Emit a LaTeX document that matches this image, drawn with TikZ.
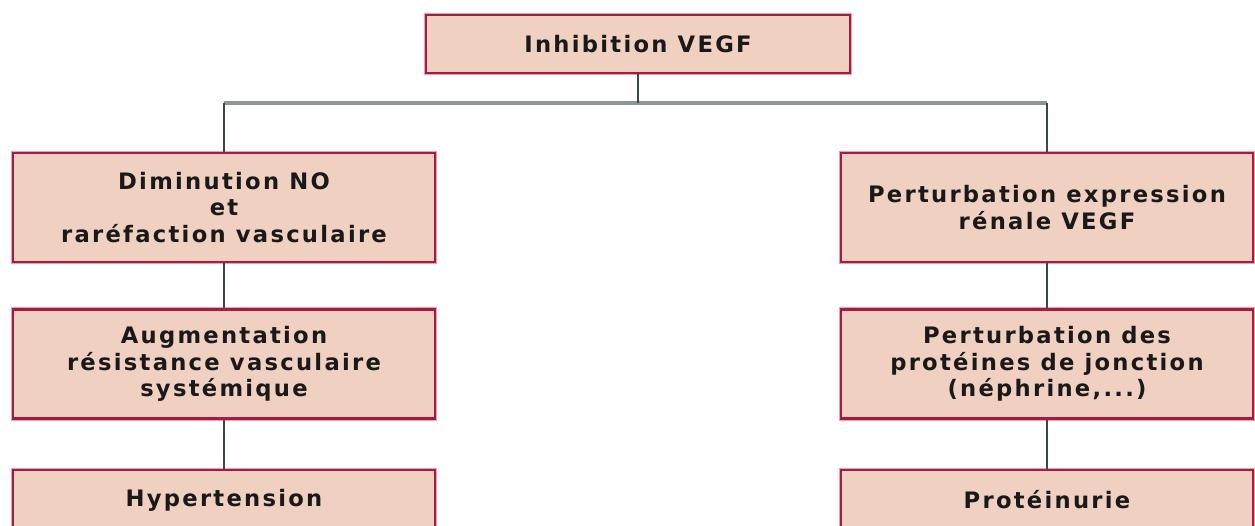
\documentclass[tikz,border=0pt]{standalone}
\usepackage{fontspec}
\setmainfont{DejaVu Sans}[LetterSpace=10]
\definecolor{boxfill}{RGB}{240,208,192}
\definecolor{boxline}{RGB}{165,28,66}
\definecolor{boxhalo}{RGB}{240,160,175}
\definecolor{stemgray}{RGB}{58,72,72}
\definecolor{busgray}{RGB}{140,150,150}
\begin{document}
\begin{tikzpicture}[x=0.75pt,y=0.75pt,yscale=-1,
    box/.style={draw=boxline, line width=1.6pt, fill=boxfill,
      preaction={draw=boxhalo, line width=3.6pt},
      rectangle, inner sep=0pt, align=center, text=black!90,
      font=\fontsize{17}{20}\selectfont\bfseries},
    leftbox/.style={box, minimum width=316.5pt, minimum height=81.75pt},
    rightbox/.style={box, minimum width=308.5pt, minimum height=81.75pt},
    link/.style={draw=stemgray, line width=1.8pt},
    bus/.style={draw=busgray, line width=2.4pt}]
	\clip (0,0) rectangle (1255,525);
	\fill[white] (0,0) rectangle (1255,525);
	
	% top box
	\node [box, minimum width=318pt, minimum height=43.5pt] (inhib) at (638,44) {Inhibition VEGF};
	\coordinate (split) at (638,103);
	
	% left column
	\node [leftbox] (dimno) at (224,207.5) {Diminution NO\\et\\raréfaction vasculaire};
	\node [leftbox] (augres) at (224,364) {Augmentation\\résistance vasculaire\\systémique};
	\node [leftbox, minimum height=45pt] (hyper) at (224,500) {Hypertension};
	
	% right column
	\node [rightbox] (pertexp) at (1047,207.5) {Perturbation expression\\rénale VEGF};
	\node [rightbox] (pertprot) at (1047,364) {Perturbation des\\protéines de jonction\\(néphrine,...)};
	\node [rightbox, minimum height=45pt] (protein) at (1047,500) {Protéinurie};
	
	% connectors
	\draw [bus] (dimno.north |- split) -- (pertexp.north |- split);
	\draw [link] (inhib.south) -- (split);
	\draw [link] (dimno.north |- split) -- (dimno.north);
	\draw [link] (pertexp.north |- split) -- (pertexp.north);
	\draw [link] (dimno) -- (augres);
	\draw [link] (augres) -- (hyper);
	\draw [link] (pertexp) -- (pertprot);
	\draw [link] (pertprot) -- (protein);
\end{tikzpicture}
\end{document}
